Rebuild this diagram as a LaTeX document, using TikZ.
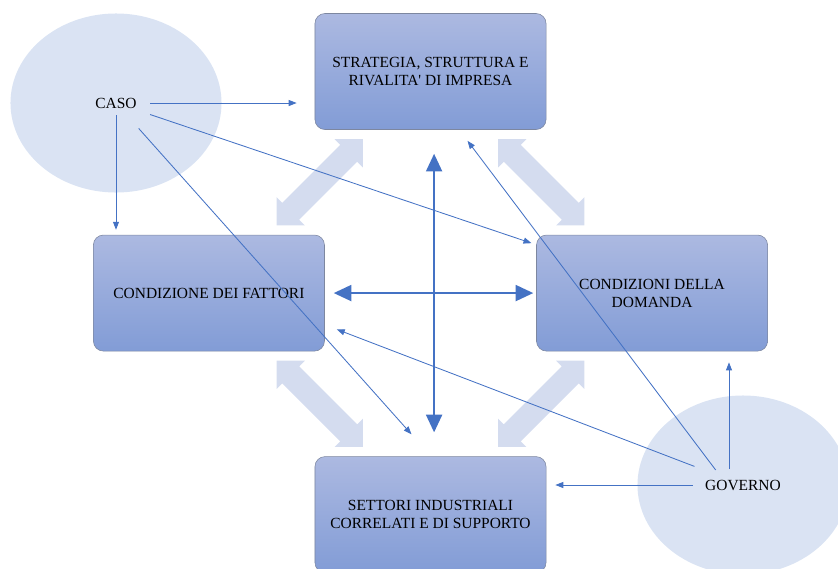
\documentclass[tikz,border=0pt]{standalone}
\usepackage{fontspec}
\setmainfont{Liberation Serif}
\usepackage{tikz}
\usetikzlibrary{positioning}
\usetikzlibrary{calc}
\usetikzlibrary{shapes.geometric}
\usetikzlibrary{arrows.meta}

\definecolor{boxtop}{RGB}{172,185,225}
\definecolor{boxbottom}{RGB}{130,156,214}
\definecolor{boxline}{RGB}{125,135,160}
\definecolor{cloud}{RGB}{218,227,243}
\definecolor{softarrow}{RGB}{212,220,239}
\definecolor{linkblue}{RGB}{68,114,196}

\begin{document}
\begin{tikzpicture}[
    x=0.025cm, y=-0.025cm,
    box/.style={rectangle, rounded corners=0.25cm, draw=boxline, line width=0.4pt,
        top color=boxtop, bottom color=boxbottom, minimum width=5.775cm,
        minimum height=2.9cm, align=center, font=\fontsize{11}{12.8}\selectfont},
    cloudnode/.style={ellipse, fill=cloud, minimum width=5.275cm, minimum height=4.475cm,
        inner sep=0pt, font=\fontsize{11}{12.8}\selectfont},
    thinarrow/.style={-{Triangle[length=0.2cm, width=0.15cm]}, linkblue, line width=0.6pt},
    bigarrow/.style={{Triangle[length=0.44cm, width=0.4cm]}-{Triangle[length=0.44cm, width=0.4cm]},
        linkblue, line width=1.4pt},
    blockarrow/.pic={
        \fill[softarrow] (-61,0) -- (-41,-20) -- (-41,-12) -- (41,-12) -- (41,-20) -- (61,0)
            -- (41,20) -- (41,12) -- (-41,12) -- (-41,20) -- cycle;
    },
    node distance=5.5375cm and 5.5375cm,
    on grid
    ]
    \useasboundingbox (0,0) rectangle (838,568);
    \clip (0,0) rectangle (838,568);

    %Nodes
    \node[cloudnode] (caso) at (116,103) {CASO};
    \node[cloudnode] (governo) at (743,485) {GOVERNO};

    \node[box] (strategia) at (430.5,71.5) {STRATEGIA, STRUTTURA E\\RIVALITA\textquotesingle{} DI IMPRESA};
    \node[box] (fattori) [below left=of strategia] {CONDIZIONE DEI FATTORI};
    \node[box] (domanda) [below right=of strategia] {CONDIZIONI DELLA\\DOMANDA};
    \node[box] (settori) [below right=of fattori] {SETTORI INDUSTRIALI\\CORRELATI E DI SUPPORTO};

    %Block arrows
    \pic[rotate=45] at ($(strategia.south west)!0.5!(fattori.north east)$) {blockarrow};
    \pic[rotate=-45] at ($(strategia.south east)!0.5!(domanda.north west)$) {blockarrow};
    \pic[rotate=-45] at ($(fattori.south east)!0.5!(settori.north west)$) {blockarrow};
    \pic[rotate=45] at ($(domanda.south west)!0.5!(settori.north east)$) {blockarrow};

    %Lines
    \draw[bigarrow, shorten <=0.225cm, shorten >=0.075cm] (fattori) -- (domanda);
    \draw[bigarrow, shorten <=0.6cm, shorten >=0.6cm] ([xshift=0.09cm]strategia.south) -- ([xshift=0.09cm]settori.north);

    \draw[thinarrow, shorten <=0.85cm, shorten >=0.45cm] (caso.center) -- (caso.center -| strategia.west);
    \draw[thinarrow, shorten <=0.3cm, shorten >=0.125cm] (caso.center) -- (caso.center |- fattori.north);
    \draw[thinarrow, shorten <=0.9cm, shorten >=0.125cm] (caso.center) -- ([yshift=-0.25cm]domanda.north west);
    \draw[thinarrow, shorten <=0.85cm] (caso.center) -- ([xshift=-0.475cm, yshift=0.55cm]settori.north);

    \draw[thinarrow, shorten <=0.4cm, shorten >=0.275cm] ([xshift=-0.35cm]governo.center) -- ([xshift=-0.35cm]governo.center |- domanda.south);
    \draw[thinarrow, shorten <=1.25cm, shorten >=0.225cm] (governo.center) -- (governo.center -| settori.east);
    \draw[thinarrow, shorten <=1.3cm] (governo.center) -- ([xshift=0.3cm, yshift=0.55cm]fattori.south east);
    \draw[thinarrow, shorten <=0.47cm] ([xshift=-0.4cm]governo.center) -- ([xshift=0.925cm, yshift=-0.275cm]strategia.south);

\end{tikzpicture}
\end{document}
